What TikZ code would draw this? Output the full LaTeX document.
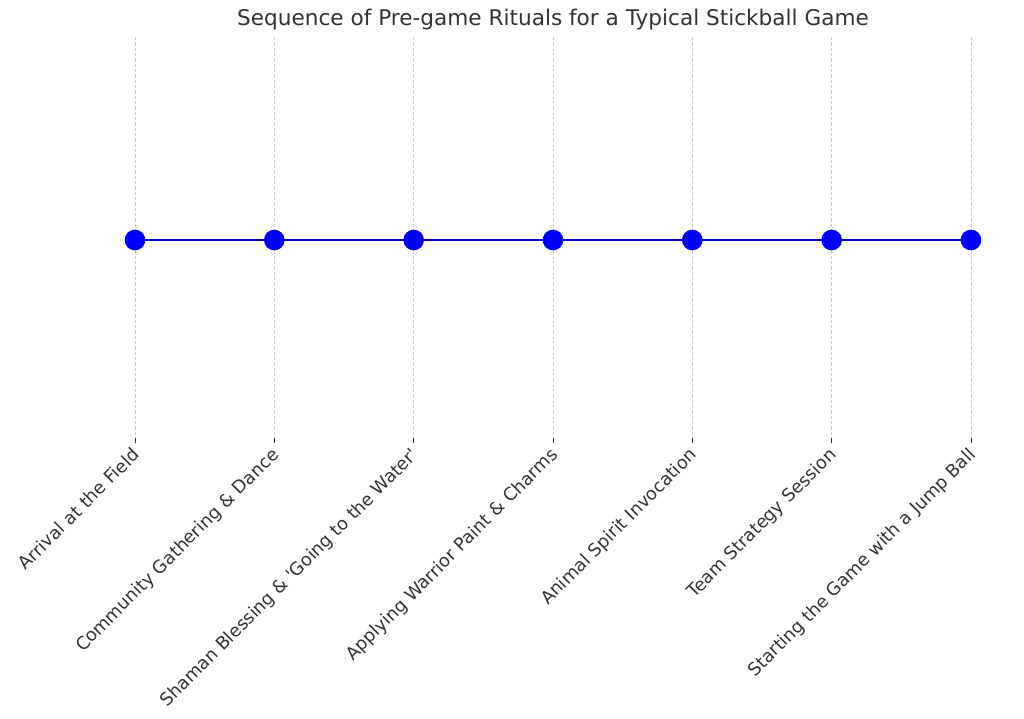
\documentclass[tikz,border=0pt]{standalone}
\usepackage{fontspec}
\setmainfont{DejaVu Sans}
\usetikzlibrary{backgrounds}
\definecolor{txtgray}{HTML}{333333}
\definecolor{gridgray}{HTML}{CCCCCC}
\definecolor{lineblue}{HTML}{0000CC}

\begin{document}
\begin{tikzpicture}[
        x=0.75pt, y=-0.75pt,
        ritual/.style={
            circle,
            fill=blue,
            inner sep=0pt,
            minimum size=15.5pt
        },
        lbl/.style={
            rotate=45,
            anchor=north east,
            inner sep=0pt,
            text=txtgray,
            font=\fontsize{13.3}{15}\selectfont
        },
        gridline/.style={
            gridgray,
            line width=0.6pt,
            dash pattern=on 2.5pt off 1.5pt
        }
    ]
        \useasboundingbox (0,0) rectangle (1024,718);
        \node[text=txtgray, font=\fontsize{16.2}{18}\selectfont] (title) at (553,20)
            {Sequence of Pre-game Rituals for a Typical Stickball Game};
        % steps along the time line
        \foreach \i/\txt in {
            1/Arrival at the Field,
            2/Community Gathering \& Dance,
            3/Shaman Blessing \& \textquotesingle Going to the Water\textquotesingle,
            4/Applying Warrior Paint \& Charms,
            5/Animal Spirit Invocation,
            6/Team Strategy Session,
            7/Starting the Game with a Jump Ball} {
            \pgfmathsetmacro{\xx}{135+139.33*(\i-1)}
            \draw[gridline] (\xx,37) -- (\xx,438);
            \draw[txtgray, line width=0.6pt] (\xx,438) -- (\xx,443);
            \node[lbl] (l\i) at (\xx-4,446) {\txt};
            \node[ritual] (r\i) at (\xx,240) {};
        }
        \begin{scope}[on background layer]
            \draw[lineblue, line width=1.6pt] (r1.center) -- (r7.center);
        \end{scope}
    \end{tikzpicture}
\end{document}
